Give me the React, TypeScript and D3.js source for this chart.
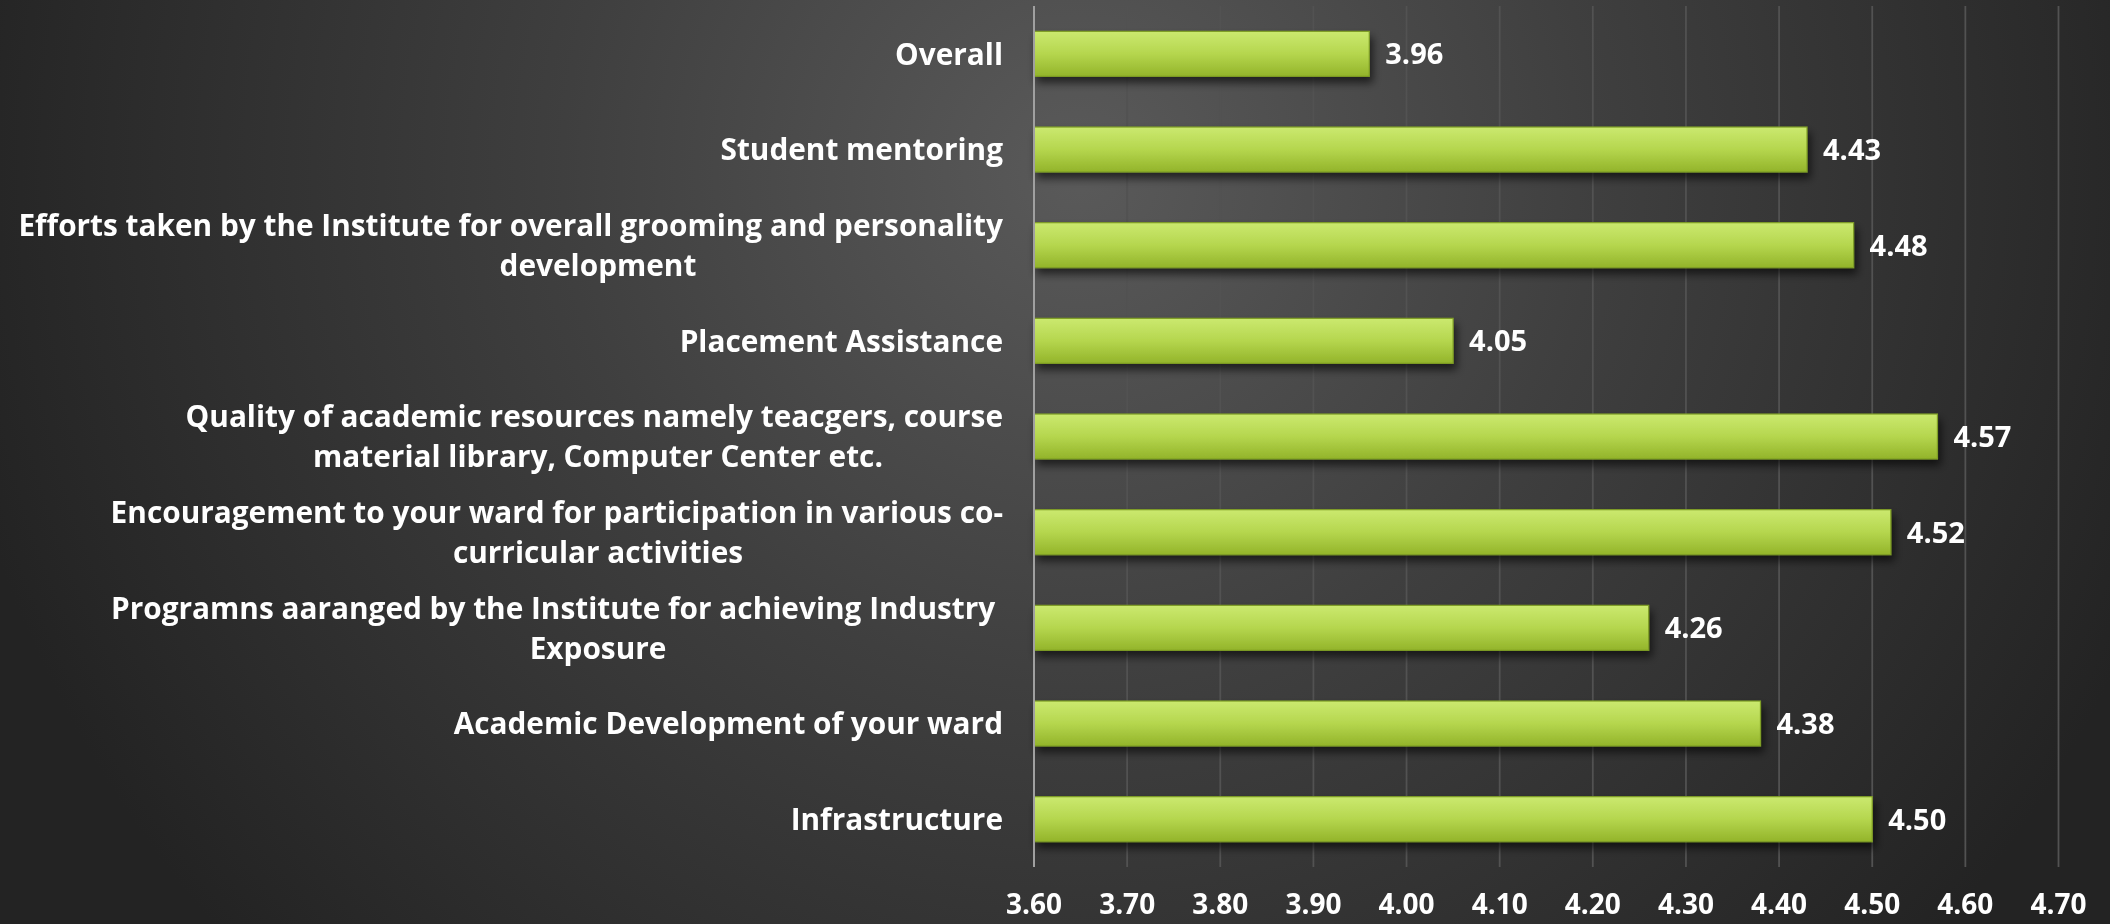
import React from "react";
import * as d3 from "d3";

const categories: string[] = [
  "Overall",
  "Student mentoring",
  "Efforts taken by the Institute for overall grooming and personality\ndevelopment",
  "Placement Assistance",
  "Quality of academic resources namely teacgers, course\nmaterial library, Computer Center etc.",
  "Encouragement to your ward for participation in various co-\ncurricular activities",
  "Programns aaranged by the Institute for achieving Industry \nExposure",
  "Academic Development of your ward",
  "Infrastructure",
];

const values: number[] = [3.96, 4.43, 4.48, 4.05, 4.57, 4.52, 4.26, 4.38, 4.5];

const tickValues: number[] = [3.6, 3.7, 3.8, 3.9, 4.0, 4.1, 4.2, 4.3, 4.4, 4.5, 4.6, 4.7];

const W = 2110;
const H = 924;
const FONT = "'Open Sans', Lato, sans-serif";

export default function App() {
  const x = d3.scaleLinear().domain([3.6, 4.7]).range([1034, 2058.5]);
  const y = d3
    .scaleBand<string>()
    .domain(categories)
    .range([6, 867])
    .paddingInner(0.53)
    .paddingOuter(0.265);

  const labelRight = 1003;
  const wrapCenter = 598;
  const lineGap = 40;

  return (
    <div style={{ position: "fixed", left: 0, top: 0, width: W, height: H }}>
      <svg width={W} height={H} style={{ display: "block" }}>
        <defs>
          <radialGradient id="bg" gradientUnits="userSpaceOnUse" cx={1080} cy={170} r={1150}>
            <stop offset="0" stopColor="#5a5a5a" />
            <stop offset="0.45" stopColor="#3f3f3f" />
            <stop offset="1" stopColor="#232323" />
          </radialGradient>
          <linearGradient id="barGrad" x1="0" y1="0" x2="0" y2="1">
            <stop offset="0" stopColor="#cbe96f" />
            <stop offset="0.5" stopColor="#b5d64e" />
            <stop offset="1" stopColor="#93b42a" />
          </linearGradient>
          <filter id="shadow" x="-5%" y="-40%" width="110%" height="200%">
            <feDropShadow dx="3" dy="6" stdDeviation="4" floodColor="#000" floodOpacity="0.6" />
          </filter>
        </defs>
        <rect x={0} y={0} width={W} height={H} fill="url(#bg)" />

        {tickValues.slice(1).map((t) => (
          <line
            key={"g" + t}
            x1={x(t)}
            x2={x(t)}
            y1={6}
            y2={867}
            stroke="#525252"
            strokeWidth={1.8}
          />
        ))}

        {categories.map((c, i) => (
          <rect
            key={"b" + i}
            x={x(3.6)}
            y={y(c)}
            width={x(values[i]) - x(3.6)}
            height={y.bandwidth()}
            fill="url(#barGrad)"
            stroke="#7f9e25"
            strokeWidth={1.2}
            filter="url(#shadow)"
          />
        ))}

        <line x1={x(3.6)} x2={x(3.6)} y1={6} y2={867} stroke="#a0a0a0" strokeWidth={2} />

        {categories.map((c, i) => (
          <text
            key={"v" + i}
            x={x(values[i]) + 16}
            y={(y(c) as number) + y.bandwidth() / 2}
            dy="0.36em"
            fill="#ffffff"
            fontFamily={FONT}
            fontWeight={700}
            fontSize={29}
          >
            {values[i].toFixed(2)}
          </text>
        ))}

        {categories.map((c, i) => {
          const lines = c.split("\n");
          const cy = (y(c) as number) + y.bandwidth() / 2;
          const n = lines.length;
          return lines.map((ln, j) => (
            <text
              key={"c" + i + "_" + j}
              x={j === 0 ? labelRight : wrapCenter}
              y={cy + (j - (n - 1) / 2) * lineGap}
              dy="0.36em"
              textAnchor={j === 0 ? "end" : "middle"}
              fill="#ffffff"
              fontFamily={FONT}
              fontWeight={700}
              fontSize={29.8}
              style={{ whiteSpace: "pre" }}
            >
              {ln}
            </text>
          ));
        })}

        {tickValues.map((t) => (
          <text
            key={"t" + t}
            x={x(t)}
            y={904}
            dy="0.36em"
            textAnchor="middle"
            fill="#ffffff"
            fontFamily={FONT}
            fontWeight={700}
            fontSize={28}
          >
            {t.toFixed(2)}
          </text>
        ))}
      </svg>
    </div>
  );
}
